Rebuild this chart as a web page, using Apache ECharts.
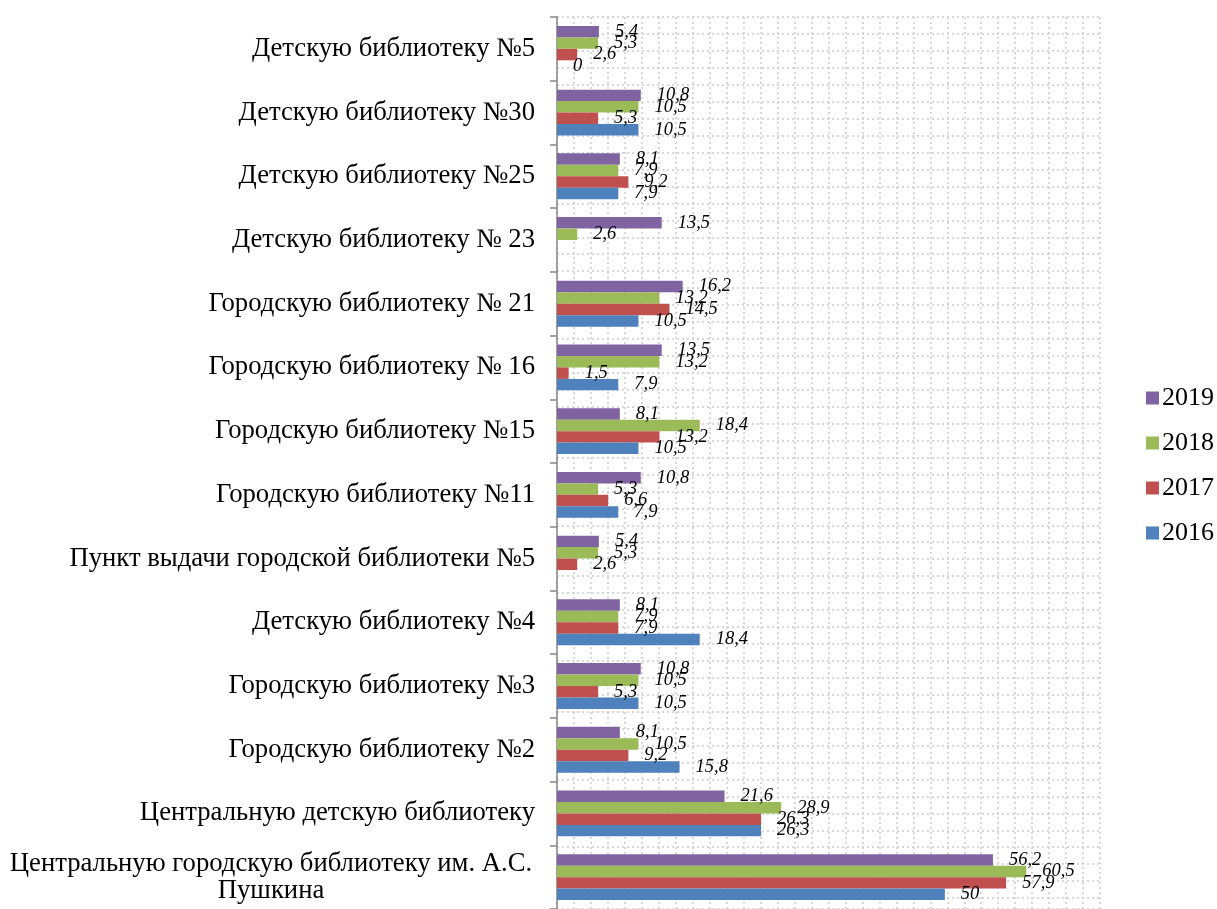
<!DOCTYPE html>
<html>
<head>
<meta charset="utf-8">
<script src="https://cdn.jsdelivr.net/npm/echarts@6/dist/echarts.min.js"></script>
<style>
	html, body { margin: 0; padding: 0; background: #fff; }
	#chart { width: 1217px; height: 909px; }
</style>
</head>
<body>
<div id="chart"></div>
<script>
// categories, bottom to top as on the picture
const categories = [
	'Центральную городскую библиотеку им. А.С.\nПушкина',
	'Центральную детскую библиотеку',
	'Городскую библиотеку №2',
	'Городскую библиотеку №3',
	'Детскую библиотеку №4',
	'Пункт выдачи городской библиотеки №5',
	'Городскую библиотеку №11',
	'Городскую библиотеку №15',
	'Городскую библиотеку № 16',
	'Городскую библиотеку № 21',
	'Детскую библиотеку № 23',
	'Детскую библиотеку №25',
	'Детскую библиотеку №30',
	'Детскую библиотеку №5'
];
const years = ['2016', '2017', '2018', '2019'];
const data2016 = [50, 26.3, 15.8, 10.5, 18.4, null, 7.9, 10.5, 7.9, 10.5, null, 7.9, 10.5, 0];
const data2017 = [57.9, 26.3, 9.2, 5.3, 7.9, 2.6, 6.6, 13.2, 1.5, 14.5, null, 9.2, 5.3, 2.6];
const data2018 = [60.5, 28.9, 10.5, 10.5, 7.9, 5.3, 5.3, 18.4, 13.2, 13.2, 2.6, 7.9, 10.5, 5.3];
const data2019 = [56.2, 21.6, 8.1, 10.8, 8.1, 5.4, 10.8, 8.1, 13.5, 16.2, 13.5, 8.1, 10.8, 5.4];
const colors = ['#4F81BD', '#C0504D', '#9BBB59', '#8064A2'];

const serif = '"Liberation Serif", "Times New Roman", "DejaVu Serif", serif';
const gridDots = {color: '#cbcbcb', width: 1.5, type: [2, 3]};

const chart = echarts.init(document.getElementById('chart'));

function makeSeries(name, values, color) {
	return {
		name: name,
		type: 'bar',
		xAxisIndex: 0,
		yAxisIndex: 0,
		data: values,
		barGap: '0%',
		barCategoryGap: '28%',
		itemStyle: {color: color},
		label: {
			show: true,
			position: 'right',
			distance: 16,
			fontFamily: serif,
			fontStyle: 'italic',
			fontSize: 18.5,
			color: '#000',
			formatter: p => p.value == null ? '' : String(p.value).replace('.', ',')
		}
	};
}

const option = {
	animation: false,
	backgroundColor: '#fff',
	legend: {
		data: ['2019', '2018', '2017', '2016'],
		orient: 'vertical',
		left: 1141,
		top: 380,
		itemWidth: 13,
		itemHeight: 13,
		itemGap: 19,
		icon: 'rect',
		textStyle: {fontFamily: serif, fontSize: 26, color: '#000', padding: [0, 0, 0, -2]}
	},
	grid: {left: 557, top: 17, width: 543, height: 895, containLabel: false},
	xAxis: [{
		type: 'value',
		min: 0,
		max: 70,
		interval: 2.1875,
		axisLine: {show: false},
		axisTick: {show: false},
		axisLabel: {show: false},
		splitLine: {show: true, lineStyle: gridDots}
	}],
	yAxis: [{
		type: 'category',
		data: categories,
		axisLine: {show: true, lineStyle: {color: '#868686', width: 1.5}},
		axisTick: {show: true, length: 7, lineStyle: {color: '#868686', width: 1.5}},
		axisLabel: {
			margin: 22,
			fontFamily: serif,
			fontSize: 26.7,
			color: '#000',
			lineHeight: 27,
			formatter: v => v.indexOf('\n') < 0 ? v : v.split('\n').map(s => '{c|' + s + '}').join('\n'),
			rich: {c: {width: 528, align: 'center', fontFamily: serif, fontSize: 26.7, color: '#000', lineHeight: 27}}
		},
		splitLine: {show: false}
	}, {
		type: 'value',
		inverse: true,
		min: 0,
		max: 895 / 17,
		interval: 1,
		axisLine: {show: false},
		axisTick: {show: false},
		axisLabel: {show: false},
		splitLine: {show: true, lineStyle: gridDots}
	}],
	// 2019 first so it sits at the top of each group
	series: [
		makeSeries(years[3], data2019, colors[3]),
		makeSeries(years[2], data2018, colors[2]),
		makeSeries(years[1], data2017, colors[1]),
		makeSeries(years[0], data2016, colors[0])
	]
};

chart.setOption(option);
</script>
</body>
</html>
